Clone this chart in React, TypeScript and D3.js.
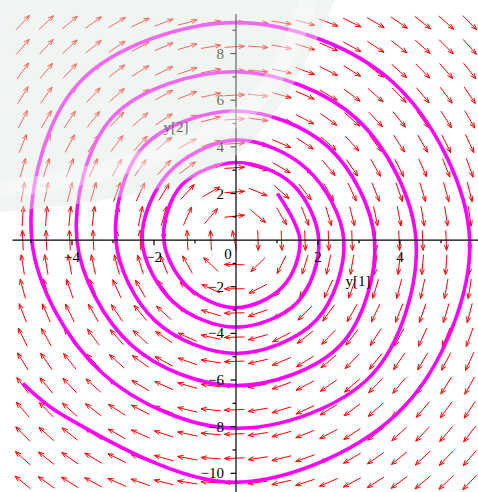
import React, { useEffect, useRef } from "react";
import * as d3 from "d3";

const W = 478;
const H = 492;

// Trajectory (y[1], y[2]), in order of travel (clockwise)
const trajY1 = [
  1.01, 1.56, 1.14, 0, -1.16, -1.76, -1.33, 0, 1.37, 2.02, 1.5, 0, -1.52, -2.29, -1.64, 0,
  1.73, 2.63, 1.95, 0, -1.97, -2.93, -2.26, 0, 2.26, 3.38, 2.55, 0, -2.55, -3.88, -3.0, 0,
  2.95, 4.39, 3.3, 0, -3.25, -4.98, -3.83, 0, 3.84, 5.7, 4.08, 0, -4.25, -5.2,
];
const trajY2 = [
  2.0, 0, -2.0, -2.9, -2.03, 0, 2.35, 3.33, 2.4, 0, -2.66, -3.73, -2.67, 0, 2.89, 4.29,
  3.05, 0, -3.45, -4.86, -3.46, 0, 4.0, 5.54, 3.98, 0, -4.5, -6.24, -4.5, 0, 5.29, 7.22,
  5.19, 0, -5.8, -8.07, -5.72, 0, 6.74, 9.33, 6.75, 0, -7.18, -10.39, -7.48, -6.14,
];

// Direction field: y1' = A*y1 + B*y2 ; y2' = C*y1 + D*y2
const FIELD_A = 0.074;
const FIELD_B = 1;
const FIELD_C = -3.1;
const FIELD_D = 0.074;
const GRID_COLS = 20;
const GRID_ROWS = 20;
const gridY1Range = [-5.2, 5.7];
const gridY2Range = [-10.39, 9.33];

const xTicks = [-5, -4, -3, -2, -1, 1, 2, 3, 4, 5];
const xTickLabels = [-4, -2, 0, 2, 4];
const yTicks = [-10, -9, -8, -7, -6, -5, -4, -3, -2, -1, 1, 2, 3, 4, 5, 6, 7, 8, 9];
const yTickLabels = [-10, -8, -6, -4, -2, 2, 4, 6, 8];

const fmt = (v: number) => (v < 0 ? "\u2212" + Math.abs(v) : String(v));

export default function App() {
  const ref = useRef<SVGSVGElement | null>(null);

  useEffect(() => {
    const svg = d3.select(ref.current);
    svg.selectAll("*").remove();

    const x = d3.scaleLinear().domain([-4, 4]).range([72, 400]);
    const y = d3.scaleLinear().domain([-10, 8]).range([473.3, 53.6]);

    svg.append("rect").attr("width", W).attr("height", H).attr("fill", "#ffffff");

    // direction field
    const sx = x(1) - x(0);
    const sy = y(0) - y(1);
    const L = 20;
    const head = 6;
    const g = svg.append("g").attr("stroke", "#ff0000").attr("stroke-width", 1).attr("fill", "none");
    const cols = d3.range(GRID_COLS).map(
      (i) => gridY1Range[0] + (i * (gridY1Range[1] - gridY1Range[0])) / (GRID_COLS - 1)
    );
    const rows = d3.range(GRID_ROWS).map(
      (j) => gridY2Range[0] + (j * (gridY2Range[1] - gridY2Range[0])) / (GRID_ROWS - 1)
    );
    for (const a of cols) {
      for (const b of rows) {
        const v1 = FIELD_A * a + FIELD_B * b;
        const v2 = FIELD_C * a + FIELD_D * b;
        let dx = v1 * sx;
        let dy = -v2 * sy;
        const len = Math.hypot(dx, dy);
        if (len < 1e-6) continue;
        dx /= len;
        dy /= len;
        const cx = x(a);
        const cy = y(b);
        const x0 = cx - (dx * L) / 2;
        const y0 = cy - (dy * L) / 2;
        const x1 = cx + (dx * L) / 2;
        const y1 = cy + (dy * L) / 2;
        const ang = Math.atan2(dy, dx);
        const spread = 0.36;
        const hx1 = x1 - head * Math.cos(ang - spread);
        const hy1 = y1 - head * Math.sin(ang - spread);
        const hx2 = x1 - head * Math.cos(ang + spread);
        const hy2 = y1 - head * Math.sin(ang + spread);
        g.append("path").attr(
          "d",
          `M${x0},${y0}L${x1},${y1}M${hx1},${hy1}L${x1},${y1}L${hx2},${hy2}`
        );
      }
    }

    // trajectory
    const pts: [number, number][] = trajY1.map((v, i) => [v, trajY2[i]]);
    const line = d3
      .line<[number, number]>()
      .x((d) => x(d[0]))
      .y((d) => y(d[1]))
      .curve(d3.curveCatmullRom.alpha(0.5));
    svg
      .append("path")
      .attr("d", line(pts) as string)
      .attr("fill", "none")
      .attr("stroke", "#ff00ff")
      .attr("stroke-width", 3.6);

    // axes
    const ax = svg.append("g").attr("stroke", "#000").attr("stroke-width", 1.2);
    ax.append("line").attr("x1", 12.5).attr("x2", W).attr("y1", y(0)).attr("y2", y(0));
    ax.append("line").attr("x1", x(0)).attr("x2", x(0)).attr("y1", 14).attr("y2", H);
    for (const t of xTicks) {
      const major = t % 2 === 0;
      ax.append("line")
        .attr("x1", x(t))
        .attr("x2", x(t))
        .attr("y1", y(0))
        .attr("y2", y(0) + (major ? 5 : 3));
    }
    for (const t of yTicks) {
      const major = t % 2 === 0;
      ax.append("line")
        .attr("x1", x(0) - (major ? 5.5 : 3.5))
        .attr("x2", x(0))
        .attr("y1", y(t))
        .attr("y2", y(t));
    }

    const font = "'Liberation Serif', 'Times New Roman', serif";
    const tl = svg.append("g").attr("font-family", font).attr("font-size", 15).attr("fill", "#000");
    for (const t of xTickLabels) {
      tl.append("text")
        .attr("x", t === 0 ? x(0) - 8 : x(t))
        .attr("y", t === 0 ? y(0) + 19 : y(0) + 22)
        .attr("text-anchor", "middle")
        .text(fmt(t));
    }
    for (const t of yTickLabels) {
      tl.append("text")
        .attr("x", x(0) - 12)
        .attr("y", y(t) + 5)
        .attr("text-anchor", "end")
        .text(fmt(t));
    }
    tl.append("text").attr("x", 176).attr("y", 132).attr("text-anchor", "middle").text("y[2]");
    tl.append("text").attr("x", 358).attr("y", 286).attr("text-anchor", "middle").text("y[1]");

    // faint watermark overlay (scan artefact)
    const wm = svg.append("g").attr("pointer-events", "none");
    wm.append("path")
      .attr("d", "M0,0L335,0C300,80 270,130 230,160C170,195 80,205 0,212Z")
      .attr("fill", "rgb(222,232,224)")
      .attr("fill-opacity", 0.45);
    wm.append("path")
      .attr("d", "M0,190C100,178 190,150 245,112C275,85 295,45 308,0")
      .attr("fill", "none")
      .attr("stroke", "#ffffff")
      .attr("stroke-opacity", 0.35)
      .attr("stroke-width", 18);
  }, []);

  return (
    <svg
      ref={ref}
      width={W}
      height={H}
      style={{ position: "absolute", left: 0, top: 0, display: "block" }}
    />
  );
}
